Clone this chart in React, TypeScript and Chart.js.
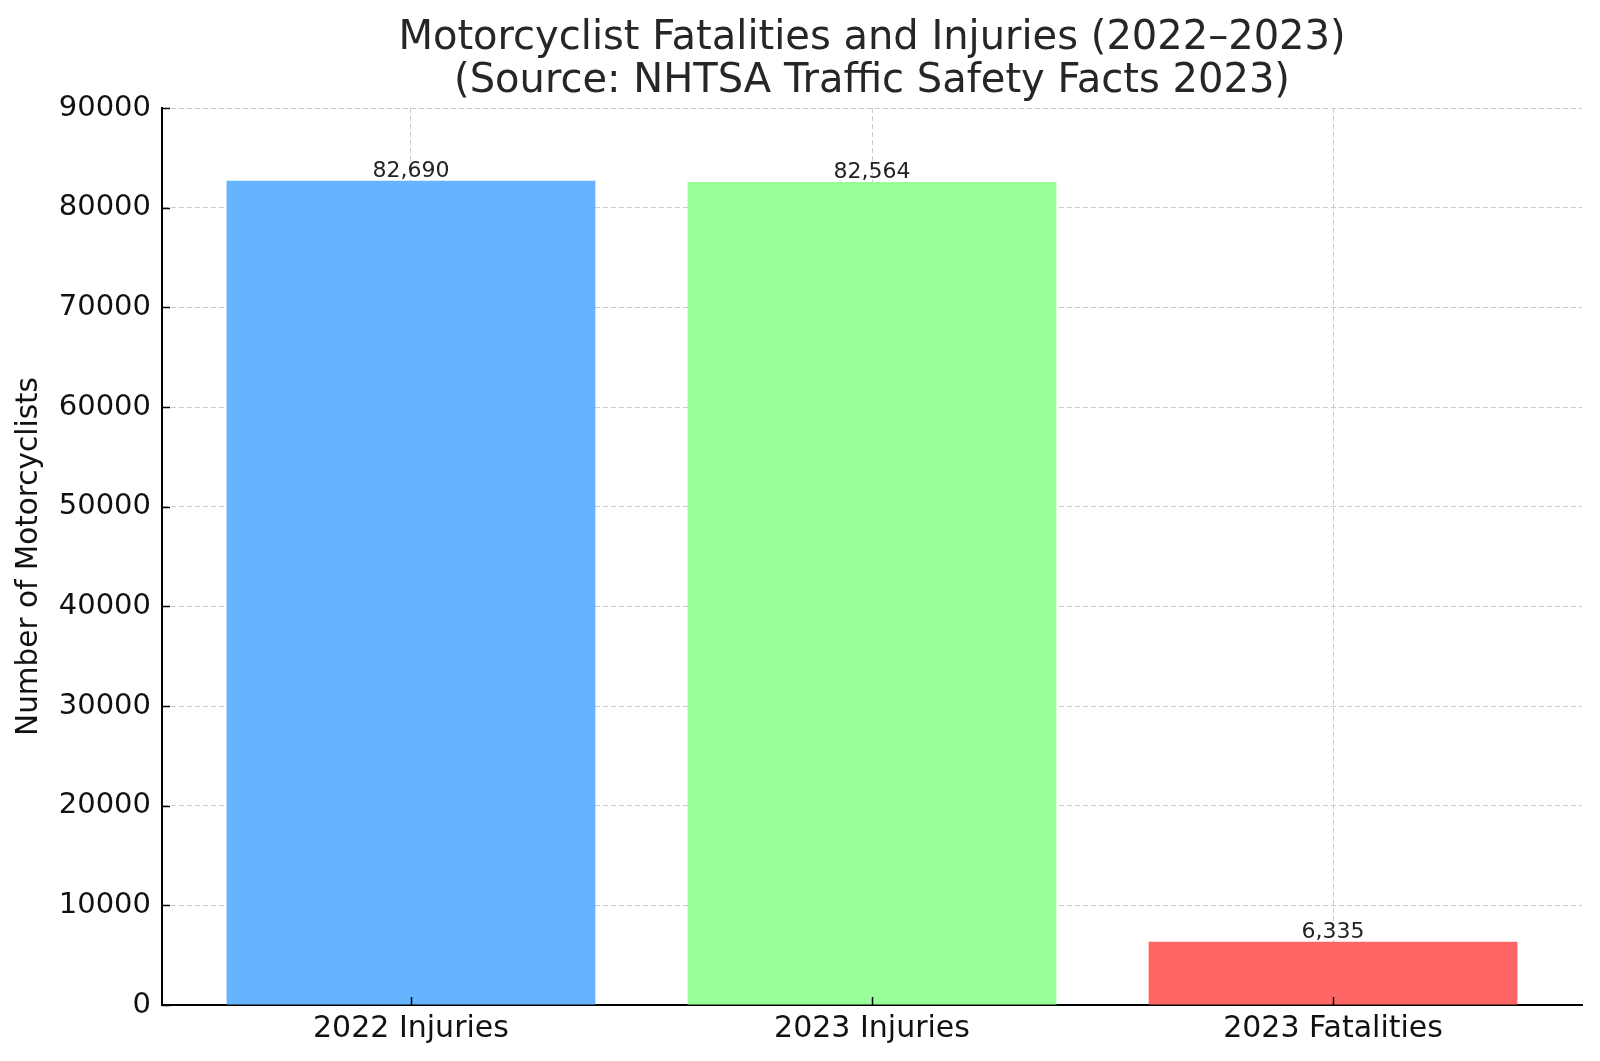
import React, { useEffect, useRef } from "react";
import { Chart, registerables } from "chart.js";

Chart.register(...registerables);

const categories = ["2022 Injuries", "2023 Injuries", "2023 Fatalities"];
const values = [82690, 82564, 6335];
const barColors = ["#66b3ff", "#99ff99", "#ff6666"];
const yTicks = [0, 10000, 20000, 30000, 40000, 50000, 60000, 70000, 80000, 90000];
const titleLines = [
  "Motorcyclist Fatalities and Injuries (2022\u20132023)",
  "(Source: NHTSA Traffic Safety Facts 2023)",
];
const yAxisTitle = "Number of Motorcyclists";

const FONT = "'DejaVu Sans', sans-serif";

export default function App() {
  const ref = useRef<HTMLCanvasElement | null>(null);

  useEffect(() => {
    const canvas = ref.current;
    if (!canvas) return;

    const overlay = {
      id: "overlay",
      afterDraw(chart: any) {
        const { ctx, chartArea } = chart;
        ctx.save();
        // title
        ctx.fillStyle = "#262626";
        ctx.font = `40px ${FONT}`;
        ctx.textAlign = "center";
        ctx.textBaseline = "middle";
        const cx = (chartArea.left + chartArea.right) / 2;
        ctx.fillText(titleLines[0], cx, 39);
        ctx.fillText(titleLines[1], cx, 82);

        // inward tick marks
        ctx.strokeStyle = "#000";
        ctx.lineWidth = 1.5;
        const ys = chart.scales.y;
        yTicks.forEach((v) => {
          const py = Math.round(ys.getPixelForValue(v)) + 0.5;
          ctx.beginPath();
          ctx.moveTo(chartArea.left, py);
          ctx.lineTo(chartArea.left + 8, py);
          ctx.stroke();
        });
        const xs = chart.scales.x;
        categories.forEach((_, i) => {
          const px = Math.round(xs.getPixelForValue(i)) + 0.5;
          ctx.beginPath();
          ctx.moveTo(px, chartArea.bottom);
          ctx.lineTo(px, chartArea.bottom - 8);
          ctx.stroke();
        });

        // value labels
        const meta = chart.getDatasetMeta(0);
        ctx.fillStyle = "#222";
        ctx.font = `22px ${FONT}`;
        ctx.textAlign = "center";
        ctx.textBaseline = "bottom";
        meta.data.forEach((bar: any, i: number) => {
          ctx.fillText(values[i].toLocaleString("en-US"), bar.x, bar.y + 1);
        });
        ctx.restore();
      },
    };

    const chart = new Chart(canvas, {
      type: "bar",
      data: {
        datasets: [
          {
            data: values.map((v, i) => ({ x: i, y: v })),
            backgroundColor: barColors,
            borderWidth: 0,
            barPercentage: 0.8,
            categoryPercentage: 1,
          },
        ],
      },
      options: {
        responsive: false,
        animation: false,
        layout: { padding: { top: 108, right: 18, left: 0, bottom: 0 } },
        plugins: {
          legend: { display: false },
          title: { display: false },
          tooltip: { enabled: false },
        },
        scales: {
          x: {
            type: "linear",
            min: -0.54,
            max: 2.54,
            offset: false,
            z: 1,
            afterBuildTicks: (scale: any) => {
              scale.ticks = categories.map((_, i) => ({ value: i }));
            },
            afterFit: (scale: any) => {
              scale.height = 56;
            },
            ticks: {
              autoSkip: false,
              maxRotation: 0,
              padding: 6,
              color: "#111",
              font: { family: FONT, size: 30 },
              callback: (v: any) => categories[Math.round(Number(v))] ?? "",
            },
            grid: {
              color: "#cccccc",
              lineWidth: 1,
              offset: false,
              drawTicks: false,
            },
            border: { display: true, color: "#000", width: 2, dash: [5, 3] },
          },
          y: {
            type: "linear",
            min: 0,
            max: 90000,
            z: 1,
            afterBuildTicks: (scale: any) => {
              scale.ticks = yTicks.map((v) => ({ value: v }));
            },
            afterFit: (scale: any) => {
              scale.width = 162;
            },
            ticks: {
              padding: 11,
              color: "#111",
              font: { family: FONT, size: 29 },
              callback: (v: any) => String(v),
            },
            grid: {
              color: "#cccccc",
              lineWidth: 1,
              drawTicks: false,
            },
            border: { display: true, color: "#000", width: 2, dash: [5, 3] },
            title: {
              display: true,
              text: yAxisTitle,
              color: "#111",
              font: { family: FONT, size: 29.5 },
              padding: { top: 12, bottom: 0 },
            },
          },
        },
      },
      plugins: [overlay],
    });

    return () => chart.destroy();
  }, []);

  return (
    <div style={{ position: "fixed", left: 0, top: 0, width: 1600, height: 1061, background: "#fff" }}>
      <canvas ref={ref} width={1600} height={1061} style={{ display: "block" }} />
    </div>
  );
}
